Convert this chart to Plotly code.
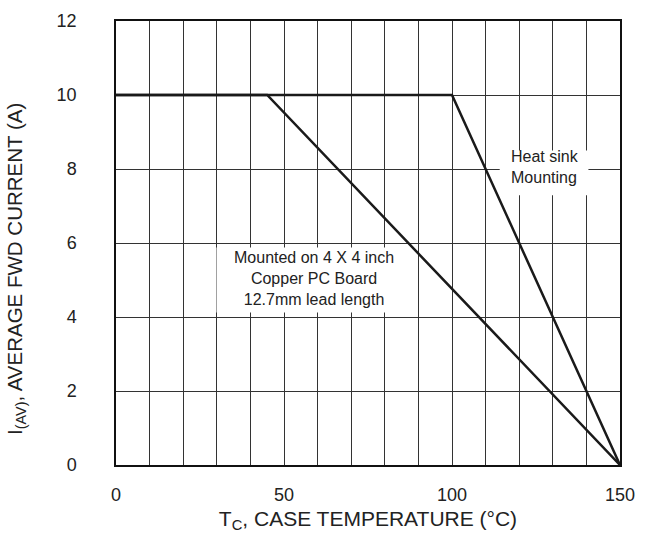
import plotly.graph_objects as go

# Data
pcb_temp = [0, 45, 150]
pcb_current = [10, 10, 0]
hs_temp = [0, 100, 150]
hs_current = [10, 10, 0]
x_ticks = [0, 50, 100, 150]
y_ticks = [0, 2, 4, 6, 8, 10, 12]
pcb_label = ["Mounted on 4 X 4 inch", "Copper PC Board", "12.7mm lead length"]
hs_label = ["Heat sink", "Mounting"]

FONT = "Liberation Sans, Arial, sans-serif"
INK = "#222"

fig = go.Figure()
fig.add_trace(go.Scatter(x=pcb_temp, y=pcb_current, mode="lines",
                         line=dict(color="#1a1a1a", width=2.5), showlegend=False))
fig.add_trace(go.Scatter(x=hs_temp, y=hs_current, mode="lines",
                         line=dict(color="#1a1a1a", width=2.5), showlegend=False))

# white label boxes that hide the grid (between grid and traces)
fig.add_shape(type="rect", x0=29.9, x1=89.5, y0=4.12, y1=5.88, layer="between",
              fillcolor="white", line=dict(width=0))
fig.add_shape(type="rect", x0=114.2, x1=140.6, y0=7.29, y1=8.50, layer="between",
              fillcolor="white", line=dict(width=0))

fig.add_annotation(x=58.9, y=5.05, xref="x", yref="y", text="<br>".join(pcb_label),
                   showarrow=False, xanchor="center", yanchor="middle", align="center",
                   font=dict(family=FONT, size=16, color=INK))
fig.add_annotation(x=116.9, y=8.06, xref="x", yref="y", text="<br>".join(hs_label),
                   showarrow=False, xanchor="left", yanchor="middle", align="left",
                   font=dict(family=FONT, size=16, color=INK))

# y axis title
fig.add_annotation(x=-0.199, y=0.441, xref="paper", yref="paper",
                   text="I<sub>(AV)</sub>, AVERAGE FWD CURRENT (A)", textangle=-90,
                   showarrow=False, xanchor="center", yanchor="middle",
                   font=dict(family=FONT, size=20.5, color=INK))

fig.update_layout(
    width=646, height=538,
    margin=dict(l=116, r=23, t=11, b=71),
    plot_bgcolor="white", paper_bgcolor="white",
    font=dict(family=FONT, size=18, color=INK),
)
fig.update_xaxes(range=[0, 150], tickvals=x_ticks,
                 showgrid=True, gridcolor="#333", gridwidth=1.3,
                 minor=dict(dtick=10, showgrid=True, gridcolor="#333", gridwidth=1.3),
                 showline=True, linecolor="#111", linewidth=1.5, mirror=True,
                 zeroline=False, ticks="", ticklabelstandoff=13,
                 title=dict(text="T<sub>C</sub>, CASE TEMPERATURE (°C)", standoff=7,
                            font=dict(size=21)))
fig.update_yaxes(range=[0, 12], tickvals=y_ticks,
                 showgrid=True, gridcolor="#333", gridwidth=1.3,
                 showline=True, linecolor="#111", linewidth=1.5, mirror=True,
                 zeroline=False, ticks="", ticklabelstandoff=34)

fig.write_html("out.html")
